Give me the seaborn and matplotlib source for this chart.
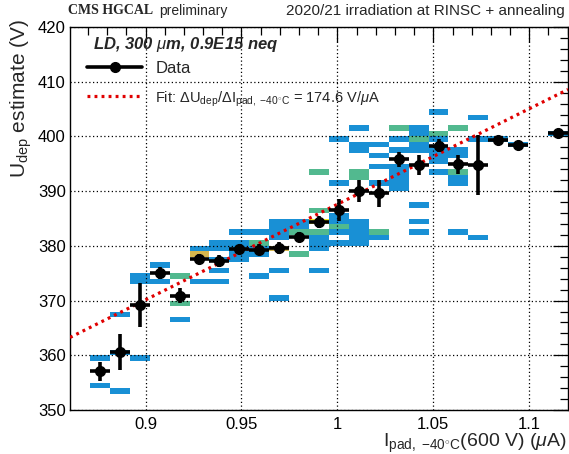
import numpy as np
import pandas as pd
import matplotlib
matplotlib.use("Agg")
import matplotlib.pyplot as plt
import seaborn as sns
from matplotlib.colors import ListedColormap
from matplotlib.lines import Line2D
from matplotlib.ticker import MultipleLocator, FuncFormatter

# ---- binning of the 2D histogram ----
I_lo, I_hi, n_I_bins = 0.8606, 1.1202, 25
U_lo, U_hi = 350, 420

# ---- histogram cells: current-bin index, lower U edge (V), entries ----
cell_col = [1, 1,
            2, 2, 2,
            3, 3, 3,
            4, 4,
            5, 5, 5,
            6, 6, 6,
            7, 7, 7, 7, 7,
            8, 8, 8, 8, 8,
            9, 9, 9, 9, 9,
            10, 10, 10, 10, 10, 10, 10,
            11, 11, 11, 11,
            12, 12, 12, 12, 12, 12, 12, 12,
            13, 13, 13, 13, 13, 13, 13,
            14, 14, 14, 14, 14, 14, 14, 14, 14, 14,
            15, 15, 15, 15, 15, 15,
            16, 16, 16, 16, 16, 16, 16, 16,
            17, 17, 17, 17, 17, 17, 17, 17,
            18, 18, 18, 18, 18, 18, 18,
            19, 19, 19, 19, 19, 19, 19,
            20, 20, 20,
            21,
            22,
            24]
cell_U = [359, 354,
          367, 360, 353,
          374, 373, 359,
          376, 373,
          374, 369, 366,
          379, 378, 373,
          380, 379, 377, 375, 373,
          382, 380, 379, 378, 377,
          382, 380, 379, 378, 374,
          384, 383, 382, 381, 379, 375, 370,
          384, 383, 382, 378,
          393, 386, 384, 382, 381, 380, 379, 375,
          399, 391, 385, 384, 383, 382, 380,
          401, 398, 397, 393, 392, 384, 383, 382, 381, 380,
          398, 396, 394, 391, 382, 381,
          401, 399, 397, 394, 393, 392, 391, 390,
          401, 400, 399, 398, 397, 387, 384, 382,
          404, 400, 399, 397, 396, 395, 393,
          401, 397, 396, 393, 392, 391, 382,
          403, 399, 381,
          399,
          398,
          400]
cell_n = [1, 1,
          1, 1, 1,
          1, 1, 1,
          1, 1,
          2, 2, 1,
          1, 3, 1,
          1, 1, 1, 1, 1,
          1, 1, 1, 1, 1,
          1, 2, 1, 1, 1,
          1, 1, 1, 1, 3, 1, 1,
          1, 1, 2, 2,
          2, 2, 4, 2, 1, 1, 1, 1,
          1, 1, 1, 1, 2, 1, 1,
          1, 1, 1, 2, 2, 1, 1, 1, 1, 1,
          1, 1, 1, 1, 2, 1,
          2, 1, 1, 1, 1, 1, 1, 1,
          1, 1, 2, 1, 1, 1, 1, 1,
          1, 2, 1, 1, 1, 1, 1,
          2, 1, 1, 2, 1, 1, 1,
          1, 1, 1,
          1,
          1,
          1]

# ---- profile (Data) points ----
prof_col = [1, 2, 3, 4, 5, 6, 7, 8, 9, 10, 11, 12, 13, 14, 15, 16, 17, 18,
            19, 20, 21, 22, 24]
prof_U = [357.06, 360.53, 369.18, 375.0, 370.88, 377.63, 377.3, 379.45,
          379.27, 379.57, 381.7, 384.32, 386.57, 390.04, 389.6, 395.8,
          394.78, 398.3, 394.9, 394.78, 399.4, 398.5, 400.55]
prof_err = [1.7, 3.3, 3.95, 1.05, 1.4, 0.9, 1.1, 0.75, 1.0, 1.1, 0.8, 1.1,
            2.0, 2.0, 2.5, 1.3, 1.9, 1.15, 1.75, 5.4, 0.0, 0.0, 0.0]

# ---- linear fit ----
fit_slope = 174.6      # V / uA
fit_U_at_1uA = 387.6   # V

hist_colors = ["#1990d5", "#52b98f", "#d6b74e", "#f3ee1c"]

# ---------------------------------------------------------------
sns.set_theme(style="white")
plt.rcParams["font.family"] = ["Liberation Sans", "DejaVu Sans"]
plt.rcParams["mathtext.fontset"] = "custom"
plt.rcParams["mathtext.rm"] = "Liberation Sans"
plt.rcParams["mathtext.it"] = "Liberation Sans:italic"
plt.rcParams["mathtext.bf"] = "Liberation Sans:bold"

W, H = 569, 454
fig = plt.figure(figsize=(W / 100, H / 100), dpi=100)
fig.patch.set_facecolor("white")
ax = fig.add_axes([70 / W, 1 - 410 / H, 498 / W, 383 / H])

x_edges = np.linspace(I_lo, I_hi, n_I_bins + 1)
y_edges = np.arange(U_lo, U_hi + 1, 1)
x_centers = 0.5 * (x_edges[:-1] + x_edges[1:])
bin_w = x_edges[1] - x_edges[0]

cells = pd.DataFrame({
    "I": x_centers[np.array(cell_col)],
    "U": np.array(cell_U) + 0.5,
    "n": cell_n,
})
cmap = ListedColormap(hist_colors)
sns.histplot(data=cells, x="I", y="U", weights="n", bins=[x_edges, y_edges],
             cmap=cmap, vmin=0.5, vmax=4.5, cbar=False, ax=ax, zorder=1)

# fit line
fx = np.array([I_lo, I_hi])
ax.plot(fx, fit_U_at_1uA + fit_slope * (fx - 1.0), color="#e00000",
        ls=(0, (0.9, 1.3)), lw=2.3, zorder=4)

# data points
ax.errorbar(x_centers[np.array(prof_col)], prof_U, xerr=bin_w / 2,
            yerr=prof_err, fmt="o", color="black", ms=7, elinewidth=2.6,
            capsize=0, zorder=5)

ax.set_xlim(I_lo, I_hi)
ax.set_ylim(U_lo, U_hi)
ax.set_xlabel("")
ax.set_ylabel("")

ax.xaxis.set_major_locator(MultipleLocator(0.05))
ax.xaxis.set_minor_locator(MultipleLocator(0.01))
ax.yaxis.set_major_locator(MultipleLocator(10))
ax.yaxis.set_minor_locator(MultipleLocator(2))
ax.xaxis.set_major_formatter(FuncFormatter(lambda v, p: f"{v:g}"))
ax.tick_params(which="both", direction="in", top=True, right=True,
               width=0.9, colors="black", labelsize=12)
ax.tick_params(which="major", length=11)
ax.tick_params(which="minor", length=6)
ax.tick_params(axis="x", pad=5)
ax.tick_params(axis="y", pad=3)
for s in ax.spines.values():
    s.set_linewidth(1.0)
    s.set_color("black")
ax.grid(True, which="major", ls=(0, (1, 2)), color="black", lw=0.9, zorder=3)
ax.set_axisbelow(False)

# axis titles
fig.text(21 / W, 1 - 19 / H, r"U$_{\mathrm{dep}}$ estimate (V)", rotation=90,
         ha="center", va="top", fontsize=15)
fig.text(567 / W, 1 - 447 / H,
         r"I$_{\mathrm{pad,\ {-}40^{\circ}C}}$(600 V) ($\mu$A)",
         ha="right", va="baseline", fontsize=14)

# header
fig.text(68 / W, 1 - 11 / H, "CMS HGCAL", family="Liberation Serif",
         weight="bold", fontsize=10, ha="left", va="center")
fig.text(159 / W, 1 - 11 / H, "preliminary", fontsize=10, ha="left", va="center")
fig.text(565 / W, 1 - 11 / H, "2020/21 irradiation at RINSC + annealing",
         fontsize=11, ha="right", va="center")

# legend
ax.text(93 / W, 1 - 45 / H, r"LD, 300 $\mu$m, 0.9E15 neq", transform=fig.transFigure,
        fontsize=12, weight="bold", style="italic", ha="left", va="center",
        zorder=10)
handles = [
    Line2D([], [], color="black", lw=2.6, marker="o", ms=7),
    Line2D([], [], color="#e00000", lw=2.3, ls=(0, (0.9, 1.3))),
]
labels = ["Data",
          r"Fit: $\Delta$U$_{\mathrm{dep}}$/$\Delta$I$_{\mathrm{pad,\ {-}40^{\circ}C}}$ = 174.6 V/$\mu$A"]
leg = ax.legend(handles, labels, loc="upper left",
                bbox_to_anchor=(87 / W, 1 - 61 / H),
                bbox_transform=fig.transFigure,
                frameon=False, fontsize=12, handlelength=3.3, labelspacing=0.8,
                handletextpad=0.8, borderaxespad=0.0, borderpad=0.0)
leg.get_texts()[1].set_fontsize(10.5)
leg.set_zorder(10)

fig.savefig("out.png", dpi=100, facecolor="white")
